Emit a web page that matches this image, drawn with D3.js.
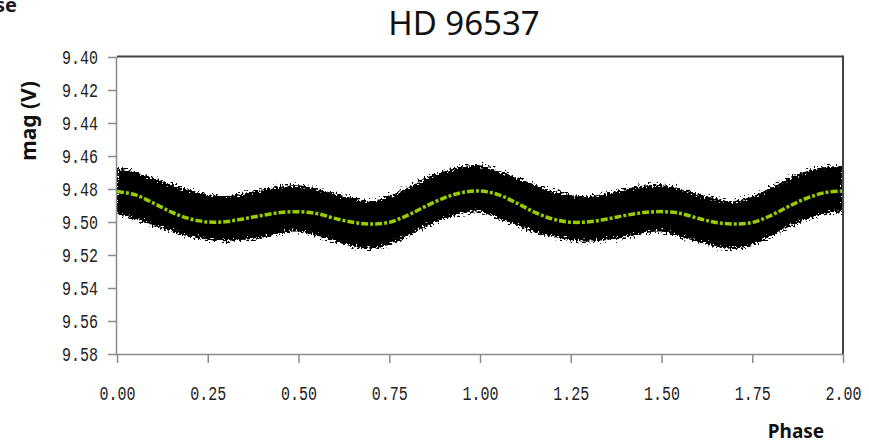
<!DOCTYPE html>
<html>
<head>
<meta charset="utf-8">
<script src="https://cdn.jsdelivr.net/npm/d3@7/dist/d3.min.js"></script>
<style>
  html, body { margin: 0; padding: 0; background: #fff; }
  svg { display: block; }
  .tick text { font-family: "Liberation Mono", "DejaVu Sans Mono", monospace; font-size: 15px; fill: #222;
    transform-box: fill-box; transform-origin: center; transform: scaleY(1.4); }
</style>
</head>
<body>
<svg id="chart" width="869" height="444"></svg>
<script>
// ---- data ----
const phases = [0.00,0.05,0.10,0.15,0.20,0.25,0.30,0.35,0.40,0.45,0.50,0.55,0.60,0.65,0.70,0.75,0.80,0.85,0.90,0.95,
                1.00,1.05,1.10,1.15,1.20,1.25,1.30,1.35,1.40,1.45,1.50,1.55,1.60,1.65,1.70,1.75,1.80,1.85,1.90,1.95,2.00];
// fitted light curve (green dashed line), mag V
const fitMag = [9.4815,9.4835,9.4885,9.4940,9.4980,9.5000,9.4998,9.4980,9.4960,9.4942,9.4938,9.4948,9.4978,9.5002,9.5012,9.5002,9.4960,9.4905,9.4855,9.4822,
                9.4812,9.4834,9.4884,9.4940,9.4982,9.5001,9.4999,9.4982,9.4960,9.4943,9.4937,9.4947,9.4977,9.5003,9.5012,9.5003,9.4962,9.4906,9.4856,9.4822,9.4812];
// observations cloud: bright (upper) and faint (lower) edges of the dense scatter band
const obsUpper = [9.4673,9.4698,9.4733,9.4773,9.4808,9.4833,9.4843,9.4828,9.4803,9.4783,9.4778,9.4800,9.4828,9.4856,9.4873,9.4843,9.4793,9.4736,9.4693,9.4663,
                  9.4656,9.4688,9.4730,9.4773,9.4810,9.4836,9.4843,9.4826,9.4800,9.4780,9.4776,9.4798,9.4830,9.4858,9.4874,9.4846,9.4793,9.4738,9.4693,9.4666,9.4660];
const obsLower = [9.4948,9.4983,9.5018,9.5058,9.5088,9.5108,9.5116,9.5108,9.5096,9.5068,9.5058,9.5086,9.5118,9.5148,9.5160,9.5138,9.5086,9.5028,9.4983,9.4948,
                  9.4938,9.4980,9.5020,9.5060,9.5090,9.5110,9.5118,9.5108,9.5094,9.5068,9.5058,9.5088,9.5120,9.5150,9.5163,9.5140,9.5088,9.5030,9.4983,9.4950,9.4943];
const yTicks = [9.40,9.42,9.44,9.46,9.48,9.50,9.52,9.54,9.56,9.58];
const xTicks = [0.00,0.25,0.50,0.75,1.00,1.25,1.50,1.75,2.00];
const title = "HD 96537";
const xLabel = "Phase";
const yLabel = "mag (V)";

// ---- layout ----
const svg = d3.select("#chart");
const L = 117, R = 843, T = 57, B = 354;

const x = d3.scaleLinear().domain([0, 2]).range([L, R]);
const y = d3.scaleLinear().domain([9.40, 9.58]).range([T, B]);

// rough-edge filter to mimic the speckled scatter cloud
const defs = svg.append("defs");
const f = defs.append("filter").attr("id", "rough").attr("x", "-5%").attr("y", "-30%").attr("width", "110%").attr("height", "160%");
f.append("feTurbulence").attr("type", "fractalNoise").attr("baseFrequency", "0.5").attr("numOctaves", 2).attr("seed", 3).attr("result", "n");
f.append("feDisplacementMap").attr("in", "SourceGraphic").attr("in2", "n").attr("scale", 13)
  .attr("xChannelSelector", "R").attr("yChannelSelector", "G");
defs.append("clipPath").attr("id", "plotclip").append("rect")
  .attr("x", L).attr("y", T).attr("width", R - L).attr("height", B - T);

// title
svg.append("text").attr("x", 464).attr("y", 35).attr("text-anchor", "middle")
  .style("font-family", "'Noto Sans', sans-serif").style("font-size", "33px").style("fill", "#111")
  .text(title);

// stray axis title cut by the top-left edge (as in the reference)
svg.append("text").attr("x", 17).attr("y", 12).attr("text-anchor", "end")
  .style("font-family", "'Noto Sans', sans-serif").style("font-weight", "bold").style("font-size", "20px").style("fill", "#1a1a2a")
  .text(xLabel);

// observation band
const band = phases.map((p, i) => ({p, u: obsUpper[i], l: obsLower[i]}));
const area = d3.area().x(d => x(d.p)).y0(d => y(d.u)).y1(d => y(d.l)).curve(d3.curveCatmullRom);
svg.append("g").attr("clip-path", "url(#plotclip)")
  .append("path").datum(band).attr("d", area).attr("fill", "#000").attr("filter", "url(#rough)");

// fitted curve
const fit = phases.map((p, i) => ({p, m: fitMag[i]}));
const line = d3.line().x(d => x(d.p)).y(d => y(d.m)).curve(d3.curveCatmullRom);
svg.append("path").datum(fit).attr("d", line).attr("fill", "none")
  .attr("stroke", "#99cc00").attr("stroke-width", 3.5).attr("stroke-dasharray", "7 2 3 2");

// frame: top & right darker
svg.append("line").attr("x1", L).attr("x2", R).attr("y1", T - 0.5).attr("y2", T - 0.5).attr("stroke", "#444").attr("stroke-width", 2);
svg.append("line").attr("x1", R).attr("x2", R).attr("y1", T - 1.5).attr("y2", B).attr("stroke", "#444").attr("stroke-width", 2);

// axes
const yAxis = d3.axisLeft(y).tickValues(yTicks).tickFormat(d3.format(".2f")).tickSize(9).tickPadding(10);
const gy = svg.append("g").attr("transform", `translate(${L},0)`).call(yAxis);
const xAxis = d3.axisBottom(x).tickValues(xTicks).tickFormat(d3.format(".2f")).tickSize(9).tickPadding(25);
const gx = svg.append("g").attr("transform", `translate(0,${B})`).call(xAxis);
[gx, gy].forEach(g => {
  g.select(".domain").attr("stroke", "#8a8a8a").attr("stroke-width", 1.5);
  g.selectAll(".tick line").attr("stroke", "#8a8a8a").attr("stroke-width", 1.5);
});
gx.select(".domain").attr("d", `M${L},0.5H${R}`);
gy.select(".domain").attr("d", `M-0.5,${T}V${B}`);

// axis titles
svg.append("text").attr("x", 796).attr("y", 438).attr("text-anchor", "middle")
  .style("font-family", "'Noto Sans', sans-serif").style("font-weight", "bold").style("font-size", "19px").style("fill", "#111")
  .text(xLabel);
svg.append("text").attr("transform", "translate(36,121) rotate(-90)").attr("text-anchor", "middle")
  .style("font-family", "'Noto Sans', sans-serif").style("font-weight", "bold").style("font-size", "21px").style("fill", "#111")
  .text(yLabel);
</script>
</body>
</html>
